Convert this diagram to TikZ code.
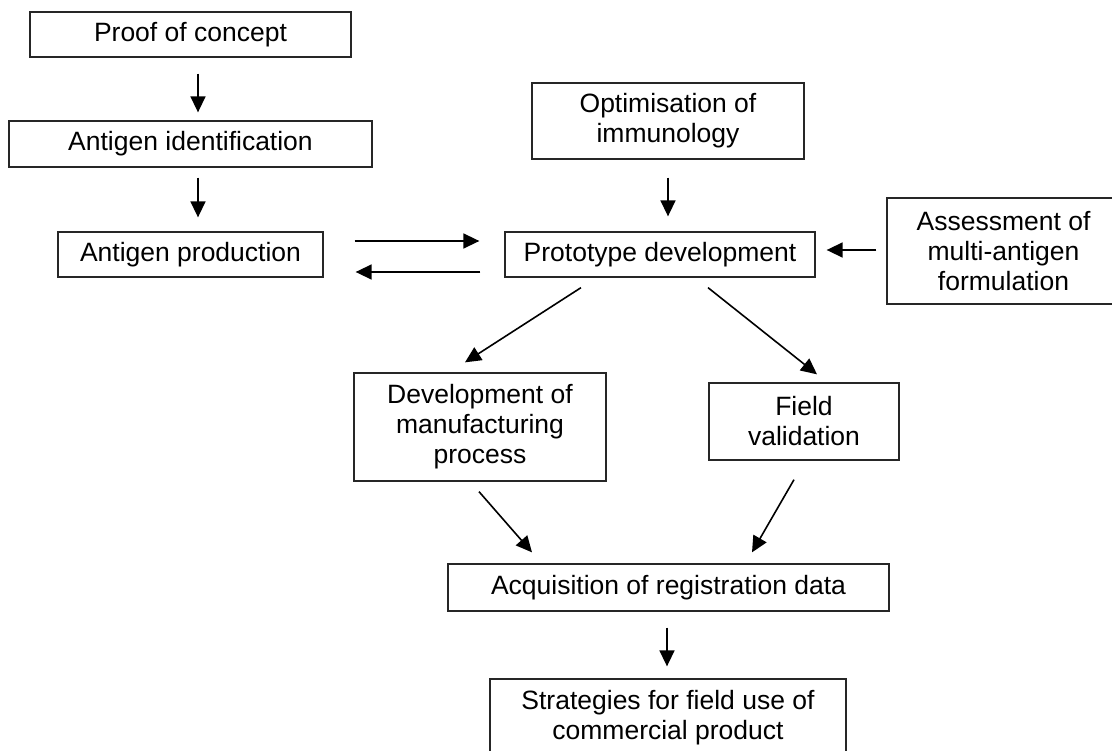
\documentclass[tikz,border=0pt]{standalone}
\usepackage{fontspec}
\setmainfont{Liberation Sans}
\usetikzlibrary{arrows.meta}
\begin{document}
\begin{tikzpicture}[x=1pt,y=-1pt,
  box/.style={draw=black!85, line width=1.3pt, inner sep=0pt, align=center,
    font=\fontsize{26.5}{30}\selectfont},
  arr/.style={line width=1.6pt, -{Triangle[length=16pt,width=15pt]}}]
\useasboundingbox (0,0) rectangle (1112,751);
\clip (0,0) rectangle (1112,751);
\fill[white] (0,0) rectangle (1112,751);
\node[box, minimum width=321pt, minimum height=45pt] (proof) at (190.5,34.5) {Proof of concept};
\node[box, minimum width=363pt, minimum height=46pt] (antid) at (190.5,144) {Antigen identification};
\node[box, minimum width=265pt, minimum height=45pt] (prod) at (190.5,254.5) {Antigen production};
\node[box, minimum width=272pt, minimum height=76pt] (optim) at (668,121) {Optimisation of\\immunology};
\node[box, minimum width=310pt, minimum height=45pt] (proto) at (660,254.5) {Prototype development};
\node[box, minimum width=233pt, minimum height=106pt] (assess) at (1003.5,251) {Assessment of\\multi-antigen\\formulation};
\node[box, minimum width=252pt, minimum height=108pt] (devel) at (480,427) {Development of\\manufacturing\\process};
\node[box, minimum width=190pt, minimum height=77pt] (field) at (804,421.5) {Field\\validation};
\node[box, minimum width=441pt, minimum height=47pt] (acq) at (668.5,587.5) {Acquisition of registration data};
\node[box, minimum width=356pt, minimum height=77pt] (strat) at (668,717.5) {Strategies for field use of\\commercial product};

\draw[arr] ([xshift=7.5pt,yshift=-16pt]proof.south) -- ([xshift=7.5pt,yshift=8pt]antid.north);
\draw[arr] ([xshift=7.5pt,yshift=-10pt]antid.south) -- ([xshift=7.5pt,yshift=14pt]prod.north);
\draw[arr] ([xshift=31pt,yshift=13.5pt]prod.east) -- ([xshift=-25pt,yshift=13.5pt]proto.west);
\draw[arr] ([xshift=-24pt,yshift=-17.5pt]proto.west) -- ([xshift=32pt,yshift=-17.5pt]prod.east);
\draw[arr] ([yshift=-18pt]optim.south) -- ([xshift=8pt,yshift=15pt]proto.north);
\draw[arr] ([xshift=-10pt,yshift=1pt]assess.west) -- ([xshift=11pt,yshift=4.5pt]proto.east);
\draw[arr] ([xshift=-79pt,yshift=-10pt]proto.south) -- ([xshift=-15pt,yshift=10pt]devel.north);
\draw[arr] ([xshift=48pt,yshift=-10pt]proto.south) -- ([xshift=13pt,yshift=8pt]field.north);
\draw[arr] ([xshift=-1pt,yshift=-10pt]devel.south) -- ([xshift=-136.5pt,yshift=11pt]acq.north);
\draw[arr] ([xshift=-10pt,yshift=-19pt]field.south) -- ([xshift=83.5pt,yshift=11pt]acq.north);
\draw[arr] ([xshift=-1.5pt,yshift=-16pt]acq.south) -- ([xshift=-1pt,yshift=12pt]strat.north);
\end{tikzpicture}
\end{document}
